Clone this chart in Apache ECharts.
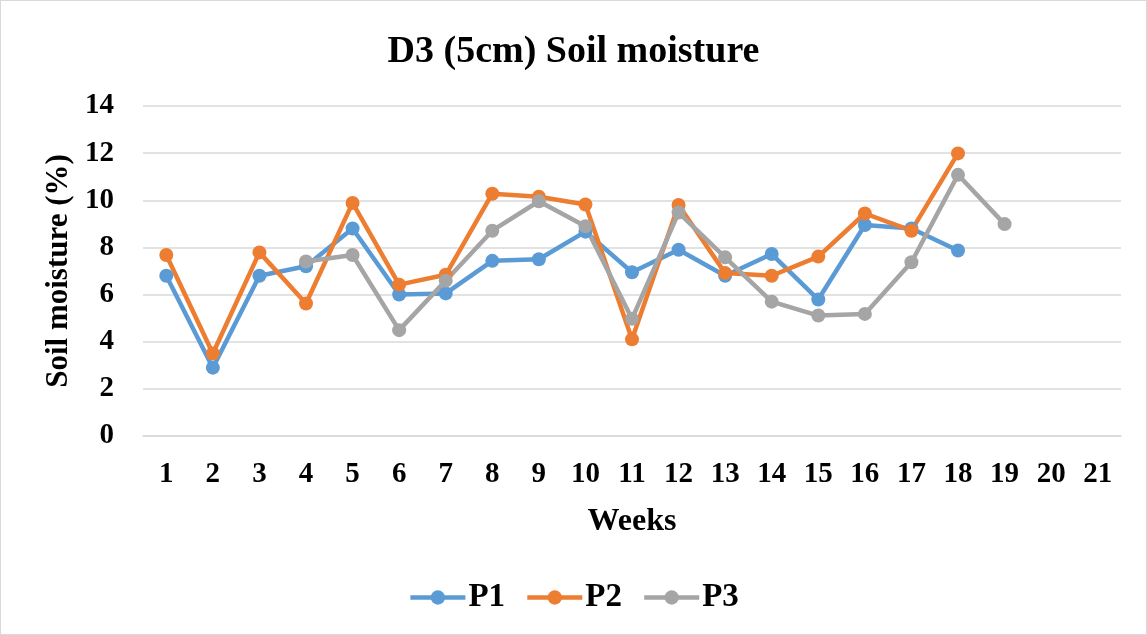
<!DOCTYPE html>
<html>
<head>
<meta charset="utf-8">
<script src="https://cdn.jsdelivr.net/npm/echarts@6/dist/echarts.min.js"></script>
<style>
  html, body { margin: 0; padding: 0; background: #fff; }
  #chart { width: 1147px; height: 635px; box-sizing: border-box; border: 1px solid #d9d9d9; }
</style>
</head>
<body>
<div id="chart"></div>
<script>
// weeks on the x axis
var weeks = ['1','2','3','4','5','6','7','8','9','10','11','12','13','14','15','16','17','18','19','20','21'];
// soil moisture (%)
var p1 = [6.8, 2.9, 6.8, 7.2, 8.8, 6.0, 6.05, 7.43, 7.5, 8.67, 6.95, 7.9, 6.8, 7.72, 5.79, 8.95, 8.8, 7.87];
var p2 = [7.68, 3.5, 7.79, 5.62, 9.89, 6.42, 6.84, 10.28, 10.15, 9.82, 4.1, 9.8, 6.91, 6.8, 7.61, 9.44, 8.71, 11.99];
var p3 = [null, null, null, 7.4, 7.68, 4.49, 6.59, 8.71, 9.96, 8.9, 4.97, 9.48, 7.58, 5.7, 5.11, 5.18, 7.37, 11.08, 8.99];

var font = '"Liberation Serif", "Times New Roman", serif';

var myChart = echarts.init(document.getElementById('chart'));
var mkSeries = function (name, data, color) {
  return {
    name: name,
    type: 'line',
    data: data,
    symbol: 'circle',
    symbolSize: 14,
    lineStyle: { width: 4.5, color: color },
    itemStyle: { color: color },
    connectNulls: false,
    animation: false
  };
};
var option = {
  title: {
    text: 'D3 (5cm) Soil moisture',
    left: 'center',
    top: 27,
    textStyle: { fontFamily: font, fontWeight: 'bold', fontSize: 38, color: '#000' }
  },
  legend: {
    bottom: 15,
    left: 'center',
    itemWidth: 55,
    itemHeight: 18,
    itemGap: 20,
    lineStyle: { width: 4.5 },
    textStyle: { fontFamily: font, fontWeight: 'bold', fontSize: 33, color: '#000', padding: [0, 0, 0, -2] },
    data: ['P1', 'P2', 'P3']
  },
  grid: { left: 142, right: 25, top: 105, bottom: 198 },
  xAxis: {
    type: 'category',
    data: weeks,
    name: 'Weeks',
    nameLocation: 'middle',
    nameGap: 70,
    nameTextStyle: { fontFamily: font, fontWeight: 'bold', fontSize: 32, color: '#000' },
    axisLine: { lineStyle: { color: '#d9d9d9', width: 1.5 } },
    axisTick: { show: false },
    axisLabel: { fontFamily: font, fontWeight: 'bold', fontSize: 29, color: '#000', margin: 24 }
  },
  yAxis: {
    type: 'value',
    min: 0,
    max: 14,
    interval: 2,
    name: 'Soil moisture (%)',
    nameLocation: 'middle',
    nameGap: 68,
    nameTextStyle: { fontFamily: font, fontWeight: 'bold', fontSize: 31, color: '#000' },
    axisLine: { show: false },
    axisTick: { show: false },
    axisLabel: { fontFamily: font, fontWeight: 'bold', fontSize: 29, color: '#000', margin: 29 },
    splitLine: { lineStyle: { color: '#d9d9d9', width: 1.5 } }
  },
  series: [
    mkSeries('P1', p1, '#5b9bd5'),
    mkSeries('P2', p2, '#ed7d31'),
    mkSeries('P3', p3, '#a5a5a5')
  ]
};
option && myChart.setOption(option);
</script>
</body>
</html>
